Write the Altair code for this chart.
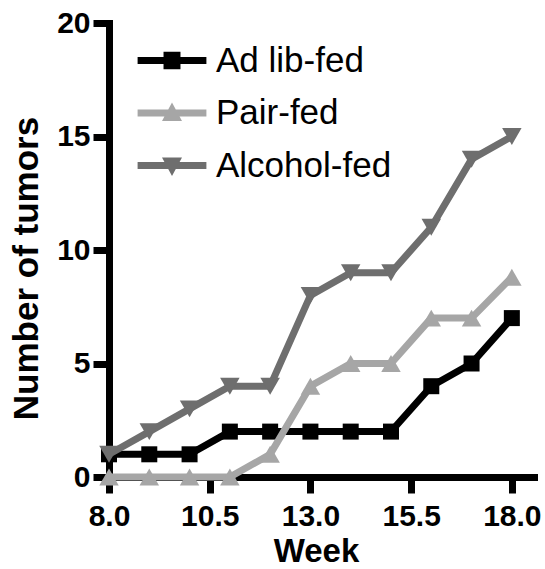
import altair as alt
import pandas as pd

weeks = [8, 9, 10, 11, 12, 13, 14, 15, 16, 17, 18]
ad_lib = [1, 1, 1, 2, 2, 2, 2, 2, 4, 5, 7]
pair_fed = [0, 0, 0, 0, 1, 4, 5, 5, 7, 7, 8.8]
alcohol_fed = [1, 2, 3, 4, 4, 8, 9, 9, 11, 14, 15]

series = ["Ad lib-fed", "Pair-fed", "Alcohol-fed"]
values = [ad_lib, pair_fed, alcohol_fed]
colors = ["#000000", "#a6a6a6", "#6e6e6e"]
shapes = ["square", "triangle-up", "triangle-down"]
x_ticks = [8, 10.5, 13, 15.5, 18]
y_ticks = [0, 5, 10, 15, 20]

rows = []
for s, vals in zip(series, values):
    for w, v in zip(weeks, vals):
        rows.append({"Week": w, "Tumors": v, "Group": s})
df = pd.DataFrame(rows)

FONT = "Liberation Sans"

# legend symbol: horizontal bar plus marker (units scaled by sqrt(size)/2 = 8px)
bar = "M-4.3,-0.44H4.3V0.44H-4.3Z"
leg_paths = [
    bar + "M-1.06,-1.1H1.06V1.1H-1.06Z",
    bar + "M0,-1.3L1.25,1L-1.25,1Z",
    bar + "M0,1.3L-1.25,-1L1.25,-1Z",
]

legend = alt.Legend(
    title=None,
    orient="none",
    legendX=45.5,
    legendY=20,
    symbolSize=256,
    symbolStrokeWidth=0,
    symbolOpacity=1,
    labelFont=FONT,
    labelFontSize=35,
    labelColor="#000000",
    labelOffset=26.5,
    labelLimit=0,
    rowPadding=16.5,
    padding=0,
)

x_enc = alt.X(
    "Week:Q",
    scale=alt.Scale(domain=[8, 18.55], nice=False, zero=False),
    axis=alt.Axis(
        values=x_ticks,
        format=".1f",
        title="Week",
        titleFont=FONT,
        titleFontSize=33,
        titleFontWeight="bold",
        titleColor="#000000",
        titleX=207,
        titleY=84,
        titleBaseline="alphabetic",
        labelFont=FONT,
        labelFontSize=30,
        labelFontWeight="bold",
        labelColor="#000000",
        labelPadding=8,
        labelFlush=False,
        tickSize=16,
        tickWidth=7,
        tickColor="#000000",
        domainWidth=7,
        domainColor="#000000",
        domainCap="square",
        grid=False,
    ),
)
y_enc = alt.Y(
    "Tumors:Q",
    scale=alt.Scale(domain=[0, 20], nice=False),
    axis=alt.Axis(
        values=y_ticks,
        title="Number of tumors",
        titleFont=FONT,
        titleFontSize=35,
        titleFontWeight="bold",
        titleColor="#000000",
        titleAngle=270,
        titleX=-72,
        titleY=245,
        titleBaseline="alphabetic",
        labelFont=FONT,
        labelFontSize=30,
        labelFontWeight="bold",
        labelColor="#000000",
        labelPadding=3,
        labelFlush=False,
        tickSize=16,
        tickWidth=7,
        tickColor="#000000",
        domainWidth=7,
        domainColor="#000000",
        domainCap="square",
        grid=False,
    ),
)

base = alt.Chart(df)
layers = []
for s, c, shp in zip(series, colors, shapes):
    sub = base.transform_filter(alt.datum.Group == s)
    layers.append(
        sub.mark_line(strokeWidth=7, color=c).encode(x=x_enc, y=y_enc)
    )
    size = 256 if shp == "square" else 380
    layers.append(
        sub.mark_point(
            filled=True, opacity=1, size=size, strokeWidth=0, color=c, shape=shp
        ).encode(x=x_enc, y=y_enc)
    )

# legend-only layer (draws no marks)
legend_layer = (
    base.transform_filter(alt.datum.Week < 0)
    .mark_point(filled=True, opacity=1)
    .encode(
        x=x_enc,
        y=y_enc,
        color=alt.Color(
            "Group:N", scale=alt.Scale(domain=series, range=colors), legend=legend
        ),
        shape=alt.Shape(
            "Group:N", scale=alt.Scale(domain=series, range=leg_paths), legend=legend
        ),
    )
)
layers.append(legend_layer)

chart = (
    alt.layer(*layers)
    .properties(
        width=425,
        height=454,
        autosize=alt.AutoSizeParams(type="none"),
        padding={"left": 109, "top": 23, "right": 11, "bottom": 92},
        background="white",
    )
    .configure_view(stroke=None)
)

chart.save("out.html", embed_options={"renderer": "svg", "actions": False})
